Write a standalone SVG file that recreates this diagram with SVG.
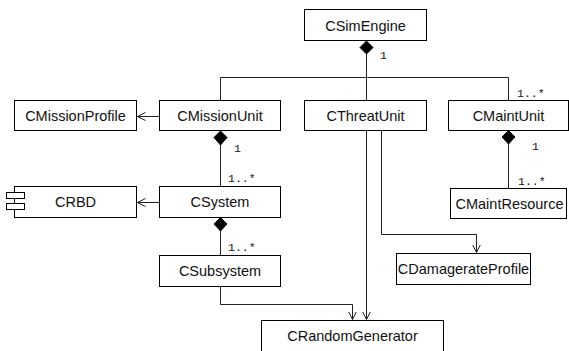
<svg xmlns="http://www.w3.org/2000/svg" width="569" height="351" viewBox="0 0 569 351">
<style>
.box{fill:#fff;stroke:#000;stroke-width:1}
.t{font-family:"Liberation Sans",Arial,sans-serif;font-size:14.5px;fill:#111;text-anchor:middle}
.m{font-family:"Liberation Mono","Courier New",monospace;font-size:11.5px;fill:#111}
.c{fill:none;stroke:#222;stroke-width:1}
.d{fill:#000;stroke:#000;stroke-width:1}
</style>
<defs>
<marker id="open" markerWidth="10" markerHeight="10" refX="8" refY="4" orient="auto" markerUnits="userSpaceOnUse">
<path d="M0,0 L8,4 L0,8" fill="none" stroke="#222" stroke-width="1"/>
</marker>
</defs>
<g id="connectors">
<polygon class="d" points="366.5,41 373,47.5 366.5,54 360,47.5"/>
<path class="c" d="M366.5,54 V100.5"/>
<path class="c" d="M220.5,100.5 V77.5 H508.5 V100.5"/>
<text class="m" x="380" y="59">1</text>
<text class="m" x="517" y="97">1..*</text>
<path class="c" d="M159.5,116.5 H137.5" marker-end="url(#open)"/>
<polygon class="d" points="220.5,131 227,137.5 220.5,145 214,137.5"/>
<path class="c" d="M220.5,145 V186.5"/>
<text class="m" x="234" y="152">1</text>
<text class="m" x="228" y="182">1..*</text>
<path class="c" d="M159.5,202.5 H137.5" marker-end="url(#open)"/>
<polygon class="d" points="220.5,217.5 227,224 220.5,231 214,224"/>
<path class="c" d="M220.5,231 V255.5"/>
<text class="m" x="228" y="251">1..*</text>
<polygon class="d" points="508.5,130.5 515,137 508.5,144 502,137"/>
<path class="c" d="M508.5,144 V188.5"/>
<text class="m" x="532" y="150">1</text>
<text class="m" x="518" y="185">1..*</text>
<path class="c" d="M366.5,130.5 V319.5" marker-end="url(#open)"/>
<path class="c" d="M381.5,130.5 V234.5 H476.5 V252.5" marker-end="url(#open)"/>
<path class="c" d="M220.5,286.5 V304.5 H352.5 V319.5" marker-end="url(#open)"/>
</g>
<g id="CSimEngine"><rect class="box" x="304.5" y="9.5" width="122" height="31"/><text class="t" x="365.5" y="31">CSimEngine</text></g>
<g id="CMissionProfile"><rect class="box" x="14.5" y="100.5" width="122" height="30"/><text class="t" x="75.5" y="121">CMissionProfile</text></g>
<g id="CMissionUnit"><rect class="box" x="159.5" y="100.5" width="121" height="30"/><text class="t" x="220" y="121">CMissionUnit</text></g>
<g id="CThreatUnit"><rect class="box" x="304.5" y="100.5" width="122" height="30"/><text class="t" x="365.5" y="121">CThreatUnit</text></g>
<g id="CMaintUnit"><rect class="box" x="448.5" y="100.5" width="120" height="30"/><text class="t" x="508.5" y="121">CMaintUnit</text></g>
<g id="CRBD"><rect class="box" x="14.5" y="186.5" width="122" height="31"/><rect class="box" x="6.5" y="192.5" width="18" height="6"/><rect class="box" x="6.5" y="203.5" width="18" height="6"/><text class="t" x="75.5" y="207">CRBD</text></g>
<g id="CSystem"><rect class="box" x="159.5" y="186.5" width="121" height="31"/><text class="t" x="220" y="207">CSystem</text></g>
<g id="CMaintResource"><rect class="box" x="450.5" y="188.5" width="116" height="30"/><text class="t" x="509.5" y="209">CMaintResource</text></g>
<g id="CSubsystem"><rect class="box" x="159.5" y="255.5" width="121" height="31"/><text class="t" x="220" y="276">CSubsystem</text></g>
<g id="CDamagerateProfile"><rect class="box" x="396.5" y="253.5" width="134" height="31"/><text class="t" x="463.5" y="274">CDamagerateProfile</text></g>
<g id="CRandomGenerator"><rect class="box" x="261.5" y="320.5" width="182" height="40"/><text class="t" x="352.5" y="341">CRandomGenerator</text></g>
</svg>
